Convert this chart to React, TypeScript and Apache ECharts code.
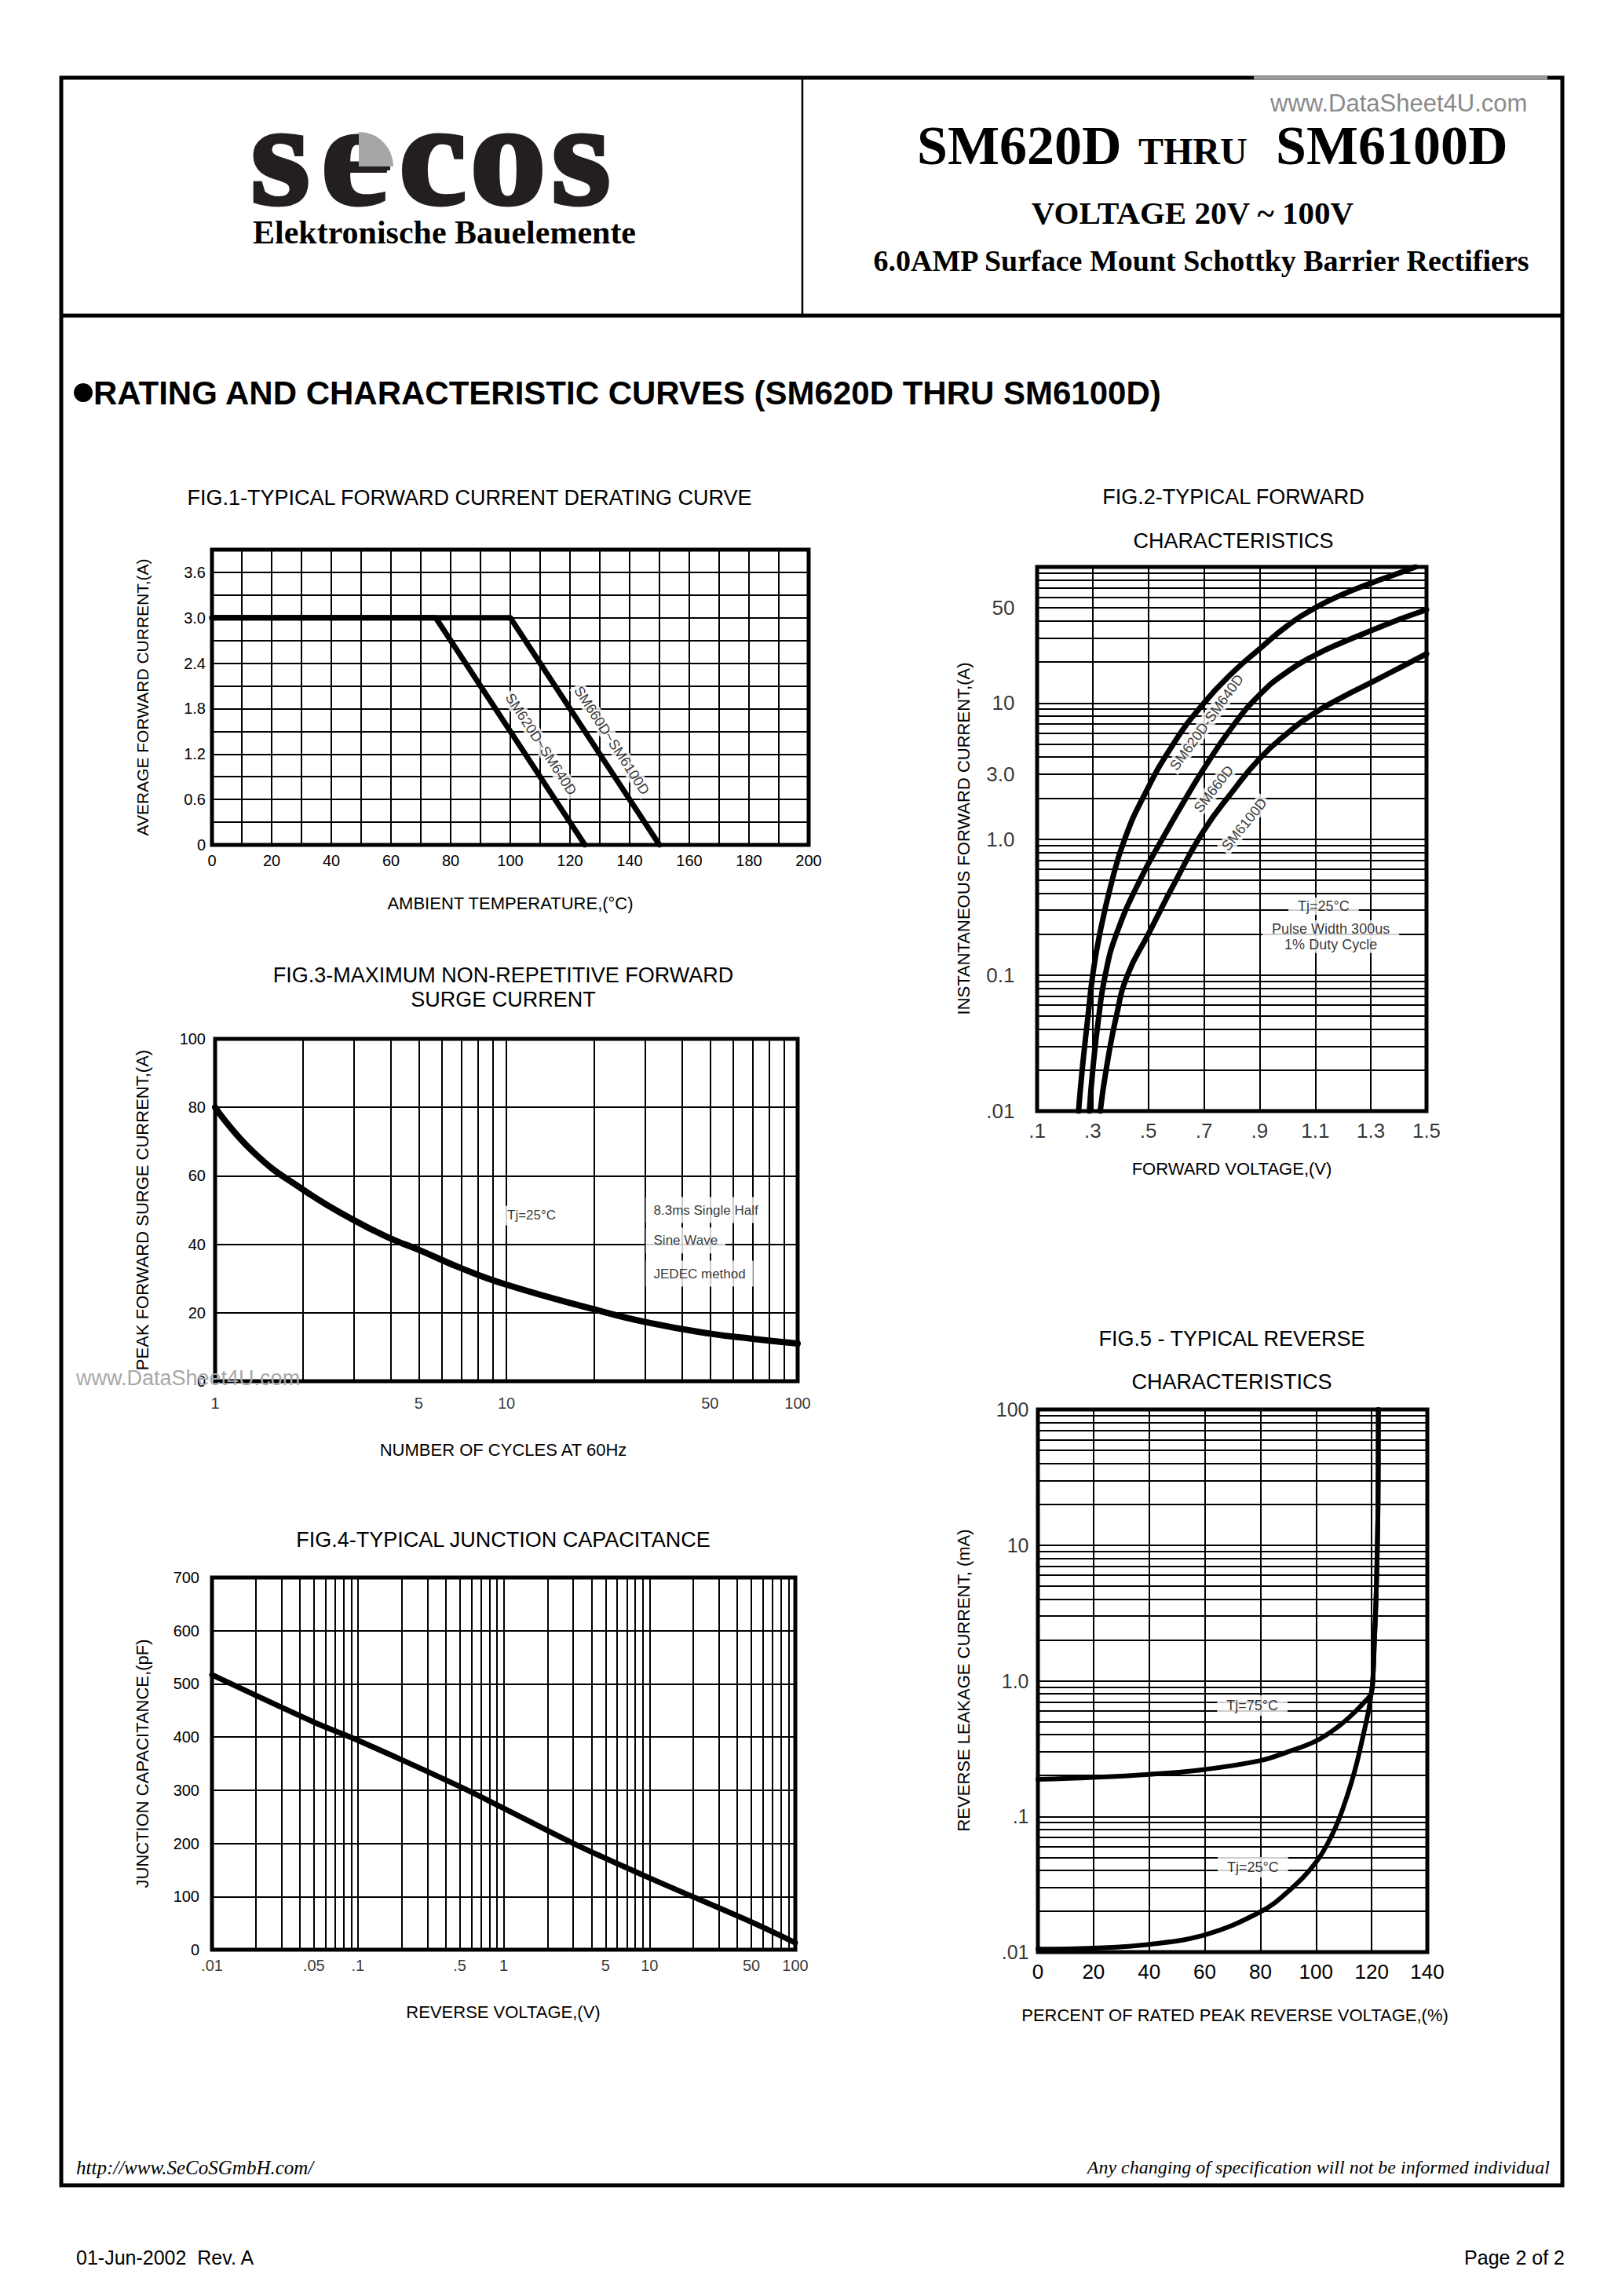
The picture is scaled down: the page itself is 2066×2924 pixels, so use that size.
import React, { useEffect, useRef } from 'react';
import * as echarts from 'echarts';

const SANS = "'Liberation Sans', Arial, Helvetica, sans-serif";
const SERIF = "'Liberation Serif', 'Times New Roman', Times, serif";

// ---------------- FIG.1 derating ----------------
const fig1TempA = [0, 75, 125];
const fig1CurrA = [3.0, 3.0, 0];
const fig1TempB = [0, 100, 150];
const fig1CurrB = [3.0, 3.0, 0];
const fig1XLabelVals = [0, 20, 40, 60, 80, 100, 120, 140, 160, 180, 200];
const fig1YLabelVals = [0, 0.6, 1.2, 1.8, 2.4, 3.0, 3.6];
const fig1YLabels = ['0', '0.6', '1.2', '1.8', '2.4', '3.0', '3.6'];

// ---------------- FIG.2 forward characteristics ----------------
const fig2VoltA = [0.249, 0.262, 0.283, 0.3, 0.325, 0.37, 0.415, 0.48, 0.59, 0.7, 0.8, 0.9, 1.0, 1.1, 1.2, 1.3, 1.4, 1.46];
const fig2CurrA = [0.01, 0.02, 0.05, 0.1, 0.2, 0.5, 1, 2, 5, 10, 16.5, 25, 37, 50, 63, 76, 90, 100];
const fig2VoltB = [0.288, 0.3, 0.322, 0.345, 0.385, 0.47, 0.55, 0.635, 0.7, 0.8, 0.9, 1.0, 1.1, 1.2, 1.3, 1.4, 1.5];
const fig2CurrB = [0.01, 0.02, 0.05, 0.1, 0.2, 0.5, 1, 2, 3.3, 6.6, 11.5, 17, 22.5, 28, 34, 41, 48.5];
const fig2VoltC = [0.327, 0.348, 0.385, 0.425, 0.5, 0.6, 0.7, 0.8, 0.9, 1.0, 1.1, 1.2, 1.3, 1.4, 1.5];
const fig2CurrC = [0.01, 0.02, 0.05, 0.1, 0.2, 0.5, 1.16, 2.2, 3.9, 6.0, 8.5, 11.1, 14.1, 18, 23];
const fig2XTicks = [0.1, 0.3, 0.5, 0.7, 0.9, 1.1, 1.3, 1.5];
const fig2XTickLabels = ['.1', '.3', '.5', '.7', '.9', '1.1', '1.3', '1.5'];
const fig2YTicks = [0.01, 0.1, 1, 3, 10, 50];
const fig2YTickLabels = ['.01', '0.1', '1.0', '3.0', '10', '50'];
const fig2XGrid = [0.3, 0.5, 0.7, 0.9, 1.1, 1.3];

// ---------------- FIG.3 surge current ----------------
const fig3Cycles = [1, 1.35, 2, 3, 4, 5, 7, 10, 20, 30, 50, 70, 100];
const fig3Amps = [80, 67, 56, 47, 41.7, 38.4, 33, 28.2, 21, 17.3, 13.9, 12.4, 11];
const fig3XTicks = [1, 5, 10, 50, 100];
const fig3XTickLabels = ['1', '5', '10', '50', '100'];

// ---------------- FIG.4 junction capacitance ----------------
const fig4Volt = [0.01, 0.05, 0.1, 0.5, 1, 3, 10, 50, 100];
const fig4Cap = [517, 428, 394, 307, 266, 200, 135, 52, 13];
const fig4XTicks = [0.01, 0.05, 0.1, 0.5, 1, 5, 10, 50, 100];
const fig4XTickLabels = ['.01', '.05', '.1', '.5', '1', '5', '10', '50', '100'];

// ---------------- FIG.5 reverse characteristics ----------------
const fig5Pct75 = [0, 20, 40, 60, 80, 90, 100, 108, 114, 118, 119.8, 120.4, 121.0, 121.5, 122.0, 122.3, 122.4];
const fig5Cur75 = [0.1875, 0.194, 0.204, 0.222, 0.258, 0.3, 0.36, 0.46, 0.59, 0.72, 0.8, 1.0, 2.0, 3.6, 9, 22, 100];
const fig5Pct25 = [0, 20, 40, 60, 80, 90, 100, 106, 110, 114, 117, 119, 119.8, 120.4, 121.0, 121.5, 122.0, 122.3, 122.4];
const fig5Cur25 = [0.0105, 0.0107, 0.0114, 0.0134, 0.0198, 0.028, 0.046, 0.075, 0.12, 0.22, 0.4, 0.62, 0.8, 1.0, 2.0, 3.6, 9, 22, 100];
const fig5YTicks = [0.01, 0.1, 1, 10, 100];
const fig5YTickLabels = ['.01', '.1', '1.0', '10', '100'];

// ---------------- annotations (data coordinates) ----------------
const fig1Notes = [
  { name: 'SM620D~SM640D', at: [110.3, 1.33] },
  { name: 'SM660D~SM6100D', at: [134, 1.38] },
];
const fig2CurveNotes = [
  { name: 'SM620D-SM640D', at: [0.71, 7.2], rotate: 54 },
  { name: 'SM660D', at: [0.735, 2.33], rotate: 52 },
  { name: 'SM6100D', at: [0.845, 1.28], rotate: 51 },
];
const fig2CondNotes = [
  { name: 'Tj=25°C', at: [1.13, 0.321] },
  { name: 'Pulse Width 300us', at: [1.156, 0.218] },
  { name: '1% Duty Cycle', at: [1.156, 0.168] },
];
const fig3TjNote = [{ name: 'Tj=25°C', at: [12.2, 48.4] }];
const fig3CondNotes = [
  { name: '8.3ms Single Half', at: [30, 50] },
  { name: 'Sine Wave', at: [30, 41.1] },
  { name: 'JEDEC method', at: [30, 31.4] },
];
const fig5Notes = [
  { name: 'Tj=75°C', at: [77.1, 0.657] },
  { name: 'Tj=25°C', at: [77.3, 0.0422] },
];

// ---------------- helpers ----------------
function zip(xs: number[], ys: number[]) {
  return xs.map((x, i) => [x, ys[i]]);
}

function logGrid(e0: number, e1: number) {
  const out: number[] = [];
  for (let e = e0; e < e1; e++) {
    for (let k = 1; k <= 9; k++) {
      if (k === 1 && e === e0) continue;
      out.push(Number((k * Math.pow(10, e)).toPrecision(6)));
    }
  }
  return out;
}

function curve(idx: number, xs: number[], ys: number[], width: number, smooth: any) {
  return {
    type: 'line',
    xAxisIndex: idx,
    yAxisIndex: idx,
    data: zip(xs, ys),
    symbol: 'none',
    showSymbol: false,
    smooth,
    silent: true,
    z: 10,
    lineStyle: { color: '#000', width, cap: 'round', join: 'round' },
  };
}

function gridLines(idx: number, xs: number[], ys: number[]) {
  return {
    type: 'line',
    xAxisIndex: idx,
    yAxisIndex: idx,
    data: [],
    silent: true,
    markLine: {
      silent: true,
      symbol: ['none', 'none'],
      label: { show: false },
      lineStyle: { color: '#000', width: 2, type: 'solid' },
      emphasis: { disabled: true },
      data: [...xs.map((v) => ({ xAxis: v })), ...ys.map((v) => ({ yAxis: v }))],
    },
  };
}

function tickSeries(idx: number, vals: number[], labels: string[], fixed: number, axis: 'x' | 'y', position: string, distance: number, fontSize: number) {
  return {
    type: 'scatter',
    xAxisIndex: idx,
    yAxisIndex: idx,
    symbolSize: 1,
    clip: false,
    silent: true,
    z: 8,
    itemStyle: { color: 'rgba(0,0,0,0)' },
    emphasis: { disabled: true },
    label: { show: true, position, distance, formatter: '{b}', fontSize, fontFamily: SANS, color: '#000' },
    data: vals.map((v, i) => ({ name: labels[i], value: axis === 'x' ? [v, fixed] : [fixed, v] })),
  };
}

function noteSeries(idx: number, items: any[], o: any) {
  return {
    type: 'scatter',
    xAxisIndex: idx,
    yAxisIndex: idx,
    symbolSize: 1,
    clip: false,
    silent: true,
    z: 8,
    itemStyle: { color: 'rgba(0,0,0,0)' },
    emphasis: { disabled: true },
    data: items.map((it) => ({
      name: it.name,
      value: it.at,
      label: {
        show: true,
        position: o.position || 'inside',
        distance: o.distance == null ? 0 : o.distance,
        rotate: it.rotate != null ? it.rotate : o.rotate || 0,
        formatter: '{b}',
        fontSize: o.fontSize,
        fontFamily: SANS,
        color: '#000',
        backgroundColor: '#fff',
        padding: o.padding || [2, 4],
      },
    })),
  };
}

function txt(text: string, x: number, y: number, size: number, o: any = {}) {
  const align = o.align || 'center';
  const vAlign = o.vAlign || 'middle';
  return {
    type: 'text',
    x,
    y,
    rotation: o.rotation || 0,
    scaleX: o.scaleX || 1,
    silent: true,
    z: 50,
    style: {
      text,
      fill: o.color || '#000',
      stroke: o.stroke || null,
      lineWidth: o.lineWidth || 0,
      fontSize: size,
      fontFamily: o.family || SANS,
      fontWeight: o.weight || 'normal',
      fontStyle: o.fstyle || 'normal',
      textAlign: align,
      textVerticalAlign: vAlign,
      align,
      verticalAlign: vAlign,
    },
  };
}

const ROT = Math.PI / 2;

const axisOff = {
  axisLine: { show: false },
  axisTick: { show: false },
  axisLabel: { show: false },
  splitLine: { show: false },
};
const splitOn = { show: true, lineStyle: { color: '#000', width: 2 } };

function buildOption() {
  const grids = [
    { left: 270, top: 700, width: 760, height: 376 },
    { left: 1321, top: 722, width: 496, height: 693 },
    { left: 274, top: 1323, width: 742, height: 436 },
    { left: 270, top: 2009, width: 743, height: 474 },
    { left: 1322, top: 1795, width: 496, height: 691 },
  ].map((g) => ({ ...g, show: true, borderColor: '#000', borderWidth: 5, backgroundColor: 'transparent' }));

  const lab = (fontSize: number, margin: number, formatter?: any) => ({
    show: true,
    fontSize,
    margin,
    color: '#000',
    fontFamily: SANS,
    ...(formatter ? { formatter } : {}),
  });

  const xAxis = [
    {
      gridIndex: 0, type: 'value', min: 0, max: 200, interval: 10,
      axisLine: { show: false }, axisTick: { show: false },
      axisLabel: lab(20, 10, (v: number) => (fig1XLabelVals.indexOf(Math.round(v)) >= 0 ? String(Math.round(v)) : '')),
      splitLine: splitOn,
    },
    { gridIndex: 1, type: 'value', min: 0.1, max: 1.5, ...axisOff },
    { gridIndex: 2, type: 'log', logBase: 10, min: 1, max: 100, ...axisOff },
    { gridIndex: 3, type: 'log', logBase: 10, min: 0.01, max: 100, ...axisOff },
    {
      gridIndex: 4, type: 'value', min: 0, max: 140, interval: 20,
      axisLine: { show: false }, axisTick: { show: false },
      axisLabel: lab(26, 12),
      splitLine: splitOn,
    },
  ];

  const yAxis = [
    {
      gridIndex: 0, type: 'value', min: 0, max: 3.9, interval: 0.3,
      axisLine: { show: false }, axisTick: { show: false },
      axisLabel: lab(20, 8, (v: number) => {
        const i = fig1YLabelVals.findIndex((t) => Math.abs(t - v) < 1e-6);
        return i >= 0 ? fig1YLabels[i] : '';
      }),
      splitLine: splitOn,
    },
    { gridIndex: 1, type: 'log', logBase: 10, min: 0.01, max: 100, ...axisOff },
    {
      gridIndex: 2, type: 'value', min: 0, max: 100, interval: 20,
      axisLine: { show: false }, axisTick: { show: false },
      axisLabel: lab(20, 12), splitLine: splitOn,
    },
    {
      gridIndex: 3, type: 'value', min: 0, max: 700, interval: 100,
      axisLine: { show: false }, axisTick: { show: false },
      axisLabel: lab(20, 16), splitLine: splitOn,
    },
    { gridIndex: 4, type: 'log', logBase: 10, min: 0.01, max: 100, ...axisOff },
  ];

  const series: any[] = [
    // gridlines for log / offset axes
    gridLines(1, fig2XGrid, logGrid(-2, 2)),
    gridLines(2, logGrid(0, 2), []),
    gridLines(3, logGrid(-2, 2), []),
    gridLines(4, [], logGrid(-2, 2)),
    // tick labels not produced by the axes
    tickSeries(1, fig2XTicks, fig2XTickLabels, 0.01, 'x', 'bottom', 11, 26),
    tickSeries(1, fig2YTicks, fig2YTickLabels, 0.1, 'y', 'left', 28, 26),
    tickSeries(2, fig3XTicks, fig3XTickLabels, 0, 'x', 'bottom', 17, 20),
    tickSeries(3, fig4XTicks, fig4XTickLabels, 0, 'x', 'bottom', 9, 20),
    tickSeries(4, fig5YTicks, fig5YTickLabels, 0, 'y', 'left', 11, 25),
    // curves
    curve(0, fig1TempA, fig1CurrA, 7, false),
    curve(0, fig1TempB, fig1CurrB, 7, false),
    curve(1, fig2VoltA, fig2CurrA, 7, 0.5),
    curve(1, fig2VoltB, fig2CurrB, 7, 0.5),
    curve(1, fig2VoltC, fig2CurrC, 7, 0.5),
    curve(2, fig3Cycles, fig3Amps, 8, 0.5),
    curve(3, fig4Volt, fig4Cap, 7, 0.3),
    curve(4, fig5Pct75, fig5Cur75, 6, 0.4),
    curve(4, fig5Pct25, fig5Cur25, 6, 0.4),
    // annotations
    noteSeries(0, fig1Notes, { rotate: -57, fontSize: 18, padding: [1, 3] }),
    noteSeries(1, fig2CurveNotes, { fontSize: 18, padding: [1, 3] }),
    noteSeries(1, fig2CondNotes, { fontSize: 18, padding: [2, 12] }),
    noteSeries(2, fig3TjNote, { fontSize: 17, padding: [4, 6] }),
    noteSeries(2, fig3CondNotes, { fontSize: 17, position: 'right', distance: 0, padding: [8, 10] }),
    noteSeries(4, fig5Notes, { fontSize: 18, padding: [4, 12] }),
  ];

  const logoLetters: [string, number][] = [['s', 357], ['e', 452], ['c', 551], ['o', 647], ['s', 740]];

  const elements: any[] = [
    // page frame
    { type: 'rect', silent: true, shape: { x: 78, y: 99, width: 1912, height: 2684 }, style: { fill: 'none', stroke: '#000', lineWidth: 5 } },
    { type: 'line', silent: true, shape: { x1: 78, y1: 402, x2: 1990, y2: 402 }, style: { stroke: '#000', lineWidth: 5 } },
    { type: 'line', silent: true, shape: { x1: 1022, y1: 99, x2: 1022, y2: 402 }, style: { stroke: '#000', lineWidth: 2.5 } },
    { type: 'line', silent: true, z: 5, shape: { x1: 1597, y1: 99, x2: 1971, y2: 99 }, style: { stroke: '#9a9a9a', lineWidth: 5 } },
    // logo
    ...logoLetters.map(([ch, x]) => txt(ch, x, 197, 185, { family: SERIF, weight: 'bold', color: '#231f20', stroke: '#231f20', lineWidth: 5, scaleX: 1.05 })),
    { type: 'sector', silent: true, z: 60, shape: { cx: 457, cy: 212, r: 44, r0: 0, startAngle: -Math.PI / 2, endAngle: 0, clockwise: true }, style: { fill: '#a6a6a6' } },
    { type: 'rect', silent: true, z: 60, shape: { x: 455, y: 212, width: 42, height: 5 }, style: { fill: '#231f20' } },
    txt('Elektronische Bauelemente', 566, 296, 42, { family: SERIF, weight: 'bold' }),
    // header right
    txt('www.DataSheet4U.com', 1618, 131, 31, { align: 'left', color: '#8a8a8a' }),
    txt('SM620D', 1168, 185, 70, { align: 'left', family: SERIF, weight: 'bold' }),
    txt('THRU', 1450, 192, 48, { align: 'left', family: SERIF, weight: 'bold' }),
    txt('SM6100D', 1625, 185, 70, { align: 'left', family: SERIF, weight: 'bold' }),
    txt('VOLTAGE 20V ~ 100V', 1519, 271, 41, { family: SERIF, weight: 'bold' }),
    txt('6.0AMP Surface Mount Schottky Barrier Rectifiers', 1530, 332, 38, { family: SERIF, weight: 'bold' }),
    // section title
    { type: 'circle', silent: true, shape: { cx: 106, cy: 500, r: 12 }, style: { fill: '#000' } },
    txt('RATING AND CHARACTERISTIC CURVES (SM620D THRU SM6100D)', 119, 500, 42, { align: 'left', weight: 'bold' }),
    // fig1
    txt('FIG.1-TYPICAL FORWARD CURRENT DERATING CURVE', 598, 634, 27),
    txt('AVERAGE FORWARD CURRENT,(A)', 181, 888, 21, { rotation: ROT }),
    txt('AMBIENT TEMPERATURE,(°C)', 650, 1150, 22),
    // fig2
    txt('FIG.2-TYPICAL FORWARD', 1571, 633, 27),
    txt('CHARACTERISTICS', 1571, 689, 27),
    txt('INSTANTANEOUS FORWARD CURRENT,(A)', 1227, 1068, 22, { rotation: ROT }),
    txt('FORWARD VOLTAGE,(V)', 1569, 1488, 22),
    // fig3
    txt('FIG.3-MAXIMUM NON-REPETITIVE FORWARD', 641, 1242, 27),
    txt('SURGE CURRENT', 641, 1273, 27),
    txt('PEAK FORWARD SURGE CURRENT,(A)', 181, 1541, 22, { rotation: ROT }),
    txt('NUMBER OF CYCLES AT 60Hz', 641, 1846, 22),
    txt('www.DataSheet4U.com', 97, 1755, 27, { align: 'left', color: '#a8a8a8' }),
    // fig4
    txt('FIG.4-TYPICAL JUNCTION CAPACITANCE', 641, 1961, 27),
    txt('JUNCTION CAPACITANCE,(pF)', 181, 2246, 22, { rotation: ROT }),
    txt('REVERSE VOLTAGE,(V)', 641, 2562, 22),
    // fig5
    txt('FIG.5 - TYPICAL REVERSE', 1569, 1705, 27),
    txt('CHARACTERISTICS', 1569, 1760, 27),
    txt('REVERSE LEAKAGE CURRENT, (mA)', 1227, 2140, 22, { rotation: ROT }),
    txt('PERCENT OF RATED PEAK REVERSE VOLTAGE,(%)', 1573, 2566, 22),
    // footer
    txt('http://www.SeCoSGmbH.com/', 97, 2760, 25, { align: 'left', family: SERIF, fstyle: 'italic' }),
    txt('Any changing of specification will not be informed individual', 1974, 2760, 24, { align: 'right', family: SERIF, fstyle: 'italic' }),
    txt('01-Jun-2002  Rev. A', 97, 2875, 25, { align: 'left' }),
    txt('Page 2 of 2', 1993, 2875, 25, { align: 'right' }),
  ];

  return {
    animation: false,
    backgroundColor: '#ffffff',
    grid: grids,
    xAxis,
    yAxis,
    series,
    graphic: { elements },
  };
}

export default function App() {
  const ref = useRef<HTMLDivElement>(null);
  useEffect(() => {
    if (!ref.current) return;
    const chart = echarts.init(ref.current, undefined, { renderer: 'svg' });
    chart.setOption(buildOption() as any);
    return () => chart.dispose();
  }, []);
  return <div ref={ref} style={{ position: 'absolute', left: 0, top: 0, width: 2066, height: 2924, background: '#fff' }} />;
}
